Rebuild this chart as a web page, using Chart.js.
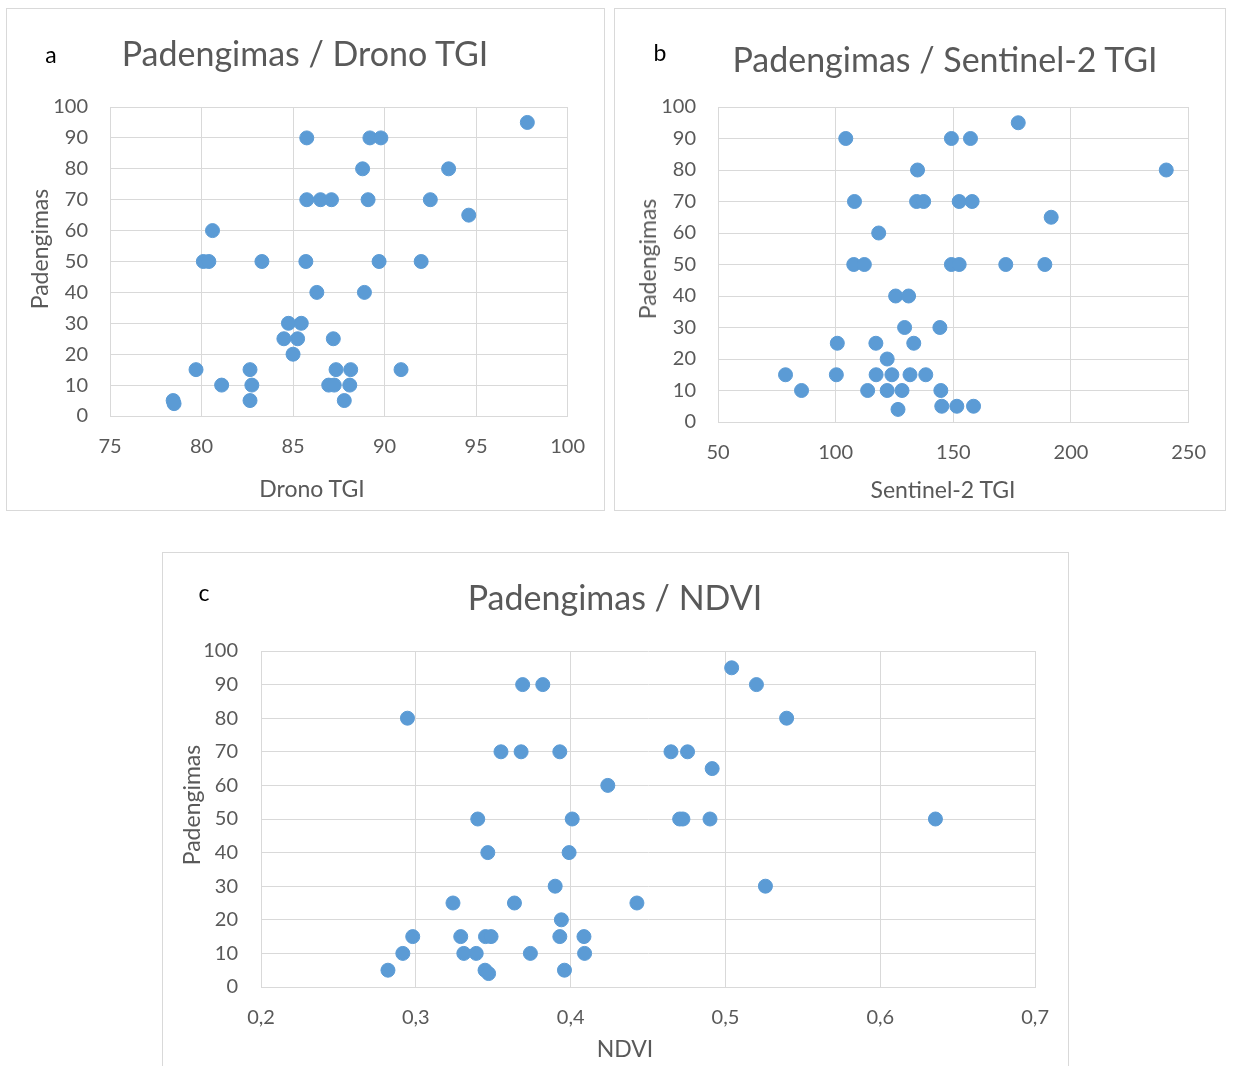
<!DOCTYPE html>
<html>
<head>
<meta charset="utf-8">
<script src="https://cdn.jsdelivr.net/npm/chart.js@4.4.1/dist/chart.umd.min.js"></script>
<style>
  body { margin: 0; background: #fff; font-family: Lato, sans-serif; }
  .box { position: absolute; border: 1px solid #d9d9d9; box-sizing: border-box; overflow: hidden; }
  .box canvas { position: absolute; left: 0; top: 0; }
  .title { position: absolute; transform: translate(-50%, -50%); color: #595959; font-size: 34px; white-space: nowrap; }
  .letter { position: absolute; transform: translate(-50%, -50%); color: #000; font-size: 23px; }
  .axis { position: absolute; transform: translate(-50%, -50%); color: #595959; font-size: 23px; white-space: nowrap; }
  .axis.vert { transform: translate(-50%, -50%) rotate(-90deg); }
</style>
</head>
<body>
<div class="box" style="left:6px;top:8px;width:599px;height:503px"><canvas id="chartA" width="597" height="501"></canvas></div>
<div class="box" style="left:614px;top:8px;width:612px;height:503px"><canvas id="chartB" width="610" height="501"></canvas></div>
<div class="box" style="left:162px;top:552px;width:907px;height:530px"><canvas id="chartC" width="905" height="515"></canvas></div>

<div class="letter" style="left:51px;top:54px">a</div>
<div class="letter" style="left:660px;top:52px">b</div>
<div class="letter" style="left:204px;top:592px">c</div>
<div class="title" style="left:305px;top:52px">Padengimas / Drono TGI</div>
<div class="title" style="left:945px;top:58px">Padengimas / Sentinel-2 TGI</div>
<div class="title" style="left:615px;top:596px">Padengimas / NDVI</div>

<div class="axis" style="left:312px;top:488px">Drono TGI</div>
<div class="axis" style="left:943px;top:489px">Sentinel-2 TGI</div>
<div class="axis" style="left:625px;top:1048px">NDVI</div>
<div class="axis vert" style="left:39px;top:249px">Padengimas</div>
<div class="axis vert" style="left:647px;top:259px">Padengimas</div>
<div class="axis vert" style="left:191px;top:805px">Padengimas</div>

<script>
// a: Drono TGI
const dronoTGI = [97.8, 85.75, 89.2, 89.8, 88.8, 93.5, 85.75, 86.5, 87.1, 89.1, 92.5, 94.6, 80.6, 80.1, 80.4, 83.3, 85.7, 89.7, 92.0, 86.3, 88.9, 84.75, 85.45, 84.5, 85.25, 87.2, 85.0, 79.7, 82.65, 87.35, 88.15, 90.9, 81.1, 82.75, 86.95, 87.25, 88.1, 78.45, 78.5, 82.65, 87.8]
const dronoCover = [95, 90, 90, 90, 80, 80, 70, 70, 70, 70, 70, 65, 60, 50, 50, 50, 50, 50, 50, 40, 40, 30, 30, 25, 25, 25, 20, 15, 15, 15, 15, 15, 10, 10, 10, 10, 10, 5, 4, 5, 5]

// b: Sentinel-2 TGI
const sentinelTGI = [177.6, 104.3, 149.2, 157.3, 134.8, 240.5, 108, 134.4, 137.4, 152.5, 158, 191.6, 118.3, 107.7, 112.2, 149.2, 152.5, 172.3, 188.9, 125.5, 131, 129.3, 144.3, 100.7, 117.1, 133.2, 121.9, 78.7, 100.3, 117.2, 123.9, 131.6, 138.3, 85.5, 113.6, 121.9, 128.2, 144.7, 126.5, 145.1, 151.5, 158.6]
const sentinelCover = [95, 90, 90, 90, 80, 80, 70, 70, 70, 70, 70, 65, 60, 50, 50, 50, 50, 50, 50, 40, 40, 30, 30, 25, 25, 25, 20, 15, 15, 15, 15, 15, 15, 10, 10, 10, 10, 10, 4, 5, 5, 5]

// c: NDVI
const ndvi = [0.369, 0.382, 0.2946, 0.355, 0.368, 0.393, 0.424, 0.340, 0.401, 0.3465, 0.399, 0.390, 0.324, 0.3637, 0.4428, 0.394, 0.298, 0.329, 0.345, 0.3486, 0.393, 0.4086, 0.2916, 0.331, 0.339, 0.374, 0.409, 0.282, 0.3447, 0.347, 0.396, 0.504, 0.52, 0.5395, 0.4648, 0.4755, 0.4914, 0.4704, 0.4725, 0.490, 0.6356, 0.5258]
const ndviCover = [90, 90, 80, 70, 70, 70, 60, 50, 50, 40, 40, 30, 25, 25, 25, 20, 15, 15, 15, 15, 15, 15, 10, 10, 10, 10, 10, 5, 5, 4, 5, 95, 90, 80, 70, 70, 65, 50, 50, 50, 50, 30]

const textColor = "#595959"
const gridColor = "#d9d9d9"

function makeScatter(id, xs, ys, opt) {
  const ctx = document.getElementById(id).getContext("2d")
  new Chart(ctx, {
    type: "scatter",
    data: {
      datasets: [{
        data: xs.map((x, i) => ({ x: x, y: ys[i] })),
        backgroundColor: "#5b9bd5",
        borderColor: "#5b9bd5",
        borderWidth: 1,
        pointRadius: 7,
        pointHoverRadius: 7
      }]
    },
    options: {
      responsive: false,
      animation: false,
      layout: { padding: { top: 98, right: opt.right, left: 0, bottom: 0 } },
      plugins: { legend: { display: false }, tooltip: { enabled: false } },
      scales: {
        x: {
          type: "linear",
          min: opt.xMin,
          max: opt.xMax,
          afterFit: s => { s.height = opt.xHeight },
          ticks: {
            stepSize: opt.xStep,
            color: textColor,
            padding: 19,
            font: { family: "Lato", size: 20 },
            callback: opt.xFormat || (v => v)
          },
          grid: { color: gridColor, drawTicks: false },
          border: { color: gridColor }
        },
        y: {
          min: 0,
          max: 100,
          afterFit: s => { s.width = opt.yWidth },
          ticks: {
            stepSize: 10,
            color: textColor,
            padding: opt.yTickPad,
            font: { family: "Lato", size: 20 }
          },
          grid: { color: gridColor, drawTicks: false },
          border: { color: gridColor }
        }
      }
    }
  })
}

makeScatter("chartA", dronoTGI, dronoCover, {
  xMin: 75, xMax: 100, xStep: 5, right: 33, xHeight: 94, yWidth: 103, yTickPad: 22
})
makeScatter("chartB", sentinelTGI, sentinelCover, {
  xMin: 50, xMax: 250, xStep: 50, right: 33, xHeight: 88, yWidth: 103, yTickPad: 22
})
makeScatter("chartC", ndvi, ndviCover, {
  xMin: 0.2, xMax: 0.7, xStep: 0.1, right: 31, xHeight: 81, yWidth: 98, yTickPad: 23,
  xFormat: v => v.toFixed(1).replace(".", ",")
})
</script>
</body>
</html>
